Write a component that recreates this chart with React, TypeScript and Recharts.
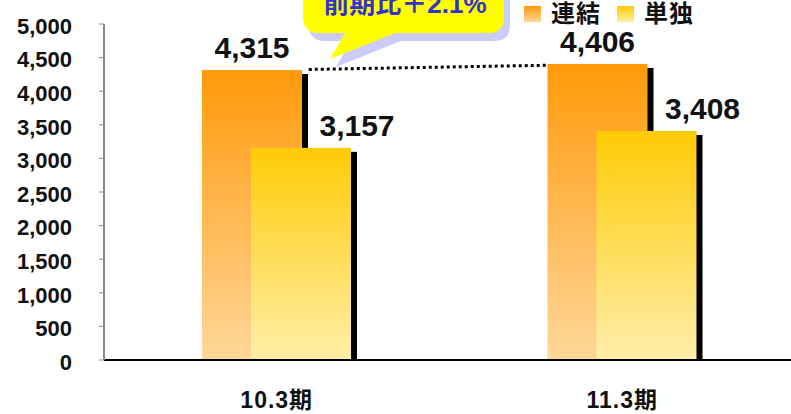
import React from 'react';
import {
  ComposedChart,
  Bar,
  XAxis,
  YAxis,
  Legend,
  LabelList,
  ReferenceLine
} from 'recharts';

const categories = ['10.3期', '11.3期'];
const consolidated = [4315, 4406];
const standalone = [3157, 3408];
const yTicks = [0, 500, 1000, 1500, 2000, 2500, 3000, 3500, 4000, 4500, 5000];
const seriesNames = ['連結', '単独'];
const calloutText = '前期比＋2.1%';

const data = categories.map((name, i) => ({
  name,
  renketsu: consolidated[i],
  tandoku: standalone[i]
}));

const LATIN = '"Liberation Sans", Arial, sans-serif';
const CJK = '"Liberation Sans", "Noto Sans CJK JP", sans-serif';

const fmt = (v: number) => v.toLocaleString('en-US');

// bar with a black drop shadow on the right
const shadowBar = (gradId: string) => (props: any) => {
  const { x, y, width, height } = props;
  return (
    <g>
      <rect x={x + 6} y={y + 4} width={width} height={Math.max(height - 4, 0)} fill="#000" />
      <rect x={x} y={y} width={width} height={height} fill={`url(#${gradId})`} />
    </g>
  );
};

const valueLabel = (side: 'center' | 'right') => (props: any) => {
  const { x, y, width, value } = props;
  const cx = side === 'center' ? x + width / 2 : x + width + 6;
  return (
    <text
      x={cx}
      y={y - 12}
      textAnchor="middle"
      fontFamily={LATIN}
      fontWeight="bold"
      fontSize={30}
      fill="#111"
    >
      {fmt(value)}
    </text>
  );
};

const legendColors = [
  'linear-gradient(#FF9A0A, #FFD79A)',
  'linear-gradient(#FFCC00, #FFEFA8)'
];

const renderLegend = () => (
  <div style={{ display: 'flex', alignItems: 'center', fontFamily: CJK }}>
    {seriesNames.map((n, i) => (
      <div key={n} style={{ display: 'flex', alignItems: 'center', marginRight: 16 }}>
        <div style={{ width: 17, height: 16, background: legendColors[i], marginRight: 10 }} />
        <span style={{ fontSize: 24, fontWeight: 'bold', color: '#111', letterSpacing: 1, lineHeight: '26px' }}>{n}</span>
      </div>
    ))}
  </div>
);

const dottedConnector = (props: any) => {
  const { x1, y1, x2, y2 } = props;
  const sx = x1 + 32;
  const ex = x2 - 75;
  const k = (y2 - y1) / (x2 - x1);
  return (
    <line
      x1={sx}
      y1={y1 + k * (sx - x1)}
      x2={ex}
      y2={y1 + k * (ex - x1)}
      stroke="#000"
      strokeWidth={3}
      strokeDasharray="3 3"
    />
  );
};

function Callout() {
  const bubble = 'M319,-20 H488 Q504,-20 504,-4 V17 Q504,33 488,33 H395 L330,59 L345,33 H319 Q303,33 303,17 V-4 Q303,-20 319,-20 Z';
  return (
    <svg width={791} height={80} style={{ position: 'absolute', left: 0, top: 0, pointerEvents: 'none' }}>
      <path d={bubble} fill="#CCCCFA" transform="translate(6,8)" />
      <path d={bubble} fill="#FFFF00" />
      <text
        x={405}
        y={13}
        textAnchor="middle"
        fontFamily={CJK}
        fontWeight="bold"
        fontSize={26}
        fill="#3333CC"
      >
        {calloutText}
      </text>
    </svg>
  );
}

export default function App() {
  return (
    <div style={{ position: 'absolute', left: 0, top: 0, width: 791, height: 414, background: '#fff', overflow: 'hidden' }}>
      <ComposedChart
        width={795}
        height={414}
        data={data}
        margin={{ top: 24, right: 0, bottom: 0, left: 0 }}
        barSize={100}
        barGap={-51}
      >
        <defs>
          <linearGradient id="gradOrange" x1="0" y1="0" x2="0" y2="1">
            <stop offset="0%" stopColor="#FF9A0A" />
            <stop offset="100%" stopColor="#FFD79A" />
          </linearGradient>
          <linearGradient id="gradYellow" x1="0" y1="0" x2="0" y2="1">
            <stop offset="0%" stopColor="#FFCB05" />
            <stop offset="100%" stopColor="#FFEEAA" />
          </linearGradient>
        </defs>
        <XAxis
          dataKey="name"
          height={54}
          tickLine={false}
          axisLine={{ stroke: '#000', strokeWidth: 2 }}
          tickMargin={26}
          tick={{ fill: '#111', fontSize: 23, fontWeight: 'bold', fontFamily: CJK, letterSpacing: 1 }}
        />
        <YAxis
          width={104}
          domain={[0, 5000]}
          ticks={yTicks}
          interval={0}
          tickFormatter={fmt}
          axisLine={{ stroke: '#888', strokeWidth: 2 }}
          tickLine={{ stroke: '#888' }}
          tickSize={5}
          tickMargin={27}
          tick={{ fill: '#111', fontSize: 22, fontWeight: 'bold', fontFamily: LATIN, dy: 2 }}
        />
        <Legend
          layout="horizontal"
          align="center"
          verticalAlign="middle"
          wrapperStyle={{ position: 'absolute', top: 1, left: 524, width: 260 }}
          content={renderLegend}
        />
        <ReferenceLine
          segment={[
            { x: categories[0], y: consolidated[0] },
            { x: categories[1], y: consolidated[1] }
          ]}
          shape={dottedConnector}
        />
        <Bar dataKey="renketsu" name={seriesNames[0]} shape={shadowBar('gradOrange')} isAnimationActive={false}>
          <LabelList dataKey="renketsu" content={valueLabel('center')} />
        </Bar>
        <Bar dataKey="tandoku" name={seriesNames[1]} shape={shadowBar('gradYellow')} isAnimationActive={false}>
          <LabelList dataKey="tandoku" content={valueLabel('right')} />
        </Bar>
      </ComposedChart>
      <Callout />
    </div>
  );
}
